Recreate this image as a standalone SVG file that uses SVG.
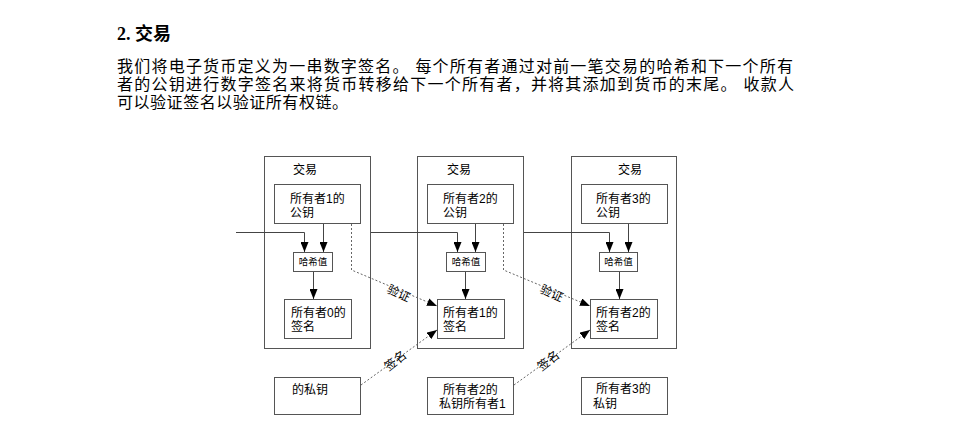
<svg xmlns="http://www.w3.org/2000/svg" width="960" height="435" viewBox="0 0 960 435">
<defs>
<marker id="ah" markerUnits="userSpaceOnUse" markerWidth="10" markerHeight="8" refX="10" refY="4" orient="auto">
<path d="M0,0 L10,4 L0,8 z" fill="#000"/>
</marker>
<style>
.title{font-family:"Liberation Serif","Noto Sans CJK SC",serif;font-size:18px;font-weight:bold;fill:#000}
.para{font-family:"Liberation Sans","Noto Sans CJK SC",sans-serif;font-size:16px;fill:#000}
.t{font-family:"Liberation Sans","Noto Sans CJK SC",sans-serif;font-size:12px;fill:#000}
.s{font-family:"Liberation Sans","Noto Sans CJK SC",sans-serif;font-size:9.5px;fill:#000}
.box{fill:#fff;stroke:#555;stroke-width:1}
.ln{fill:none;stroke:#444;stroke-width:1}
.dl{fill:none;stroke:#666;stroke-width:1;stroke-dasharray:2,2}
</style>
</defs>
<rect width="960" height="435" fill="#fff"/>
<text class="title" x="117" y="40">2. 交易</text>
<text class="para" x="117" y="72" textLength="676" lengthAdjust="spacing">我们将电子货币定义为一串数字签名。 每个所有者通过对前一笔交易的哈希和下一个所有</text>
<text class="para" x="117" y="90" textLength="677" lengthAdjust="spacing">者的公钥进行数字签名来将货币转移给下一个所有者，并将其添加到货币的末尾。 收款人</text>
<text class="para" x="117" y="108" textLength="231" lengthAdjust="spacing">可以验证签名以验证所有权链。</text>

<g id="tx1">
<rect class="box" x="264.5" y="156.5" width="106" height="192"/>
<text class="t" x="293" y="174">交易</text>
<rect class="box" x="274.5" y="184.5" width="86" height="39"/>
<text class="t" x="290" y="203">所有者1的</text>
<text class="t" x="290" y="217">公钥</text>
<rect class="box" x="293.5" y="252.5" width="39" height="19"/>
<text class="s" x="313" y="265" text-anchor="middle">哈希值</text>
<rect class="box" x="284.5" y="299.5" width="67" height="39"/>
<text class="t" x="291" y="317">所有者0的</text>
<text class="t" x="291" y="331">签名</text>
</g>
<g id="key1">
<rect class="box" x="274.5" y="377.5" width="86" height="37"/>
<text class="t" x="292" y="394">的私钥</text>
</g>

<g id="tx2">
<rect class="box" x="417.5" y="156.5" width="106" height="192"/>
<text class="t" x="447" y="174">交易</text>
<rect class="box" x="427.5" y="184.5" width="86" height="39"/>
<text class="t" x="443" y="203">所有者2的</text>
<text class="t" x="443" y="217">公钥</text>
<rect class="box" x="446.5" y="252.5" width="39" height="19"/>
<text class="s" x="466" y="265" text-anchor="middle">哈希值</text>
<rect class="box" x="437.5" y="299.5" width="67" height="39"/>
<text class="t" x="443" y="317">所有者1的</text>
<text class="t" x="443" y="331">签名</text>
</g>
<g id="key2">
<rect class="box" x="427.5" y="377.5" width="86" height="37"/>
<text class="t" x="443" y="394">所有者2的</text>
<text class="t" x="439" y="408">私钥所有者1</text>
</g>

<g id="tx3">
<rect class="box" x="571.5" y="156.5" width="105" height="192"/>
<text class="t" x="618" y="174">交易</text>
<rect class="box" x="581.5" y="184.5" width="86" height="39"/>
<text class="t" x="596" y="203">所有者3的</text>
<text class="t" x="596" y="217">公钥</text>
<rect class="box" x="599.5" y="252.5" width="38" height="19"/>
<text class="s" x="618.5" y="265" text-anchor="middle">哈希值</text>
<rect class="box" x="590.5" y="299.5" width="67" height="39"/>
<text class="t" x="596" y="317">所有者2的</text>
<text class="t" x="596" y="331">签名</text>
</g>
<g id="key3">
<rect class="box" x="581.5" y="377.5" width="86" height="37"/>
<text class="t" x="596" y="393">所有者3的</text>
<text class="t" x="593" y="408">私钥</text>
</g>

<g id="connectors">
<polyline class="ln" points="236,232.5 304.5,232.5 304.5,252" marker-end="url(#ah)"/>
<line class="ln" x1="323.5" y1="224" x2="323.5" y2="252" marker-end="url(#ah)"/>
<line class="ln" x1="313.5" y1="272" x2="313.5" y2="299" marker-end="url(#ah)"/>
<polyline class="ln" points="371,232.5 457.5,232.5 457.5,252" marker-end="url(#ah)"/>
<line class="ln" x1="475.5" y1="224" x2="475.5" y2="252" marker-end="url(#ah)"/>
<line class="ln" x1="465.5" y1="272" x2="465.5" y2="299" marker-end="url(#ah)"/>
<polyline class="ln" points="524,232.5 609.5,232.5 609.5,252" marker-end="url(#ah)"/>
<line class="ln" x1="628.5" y1="224" x2="628.5" y2="252" marker-end="url(#ah)"/>
<line class="ln" x1="619.5" y1="272" x2="619.5" y2="299" marker-end="url(#ah)"/>

<polyline class="dl" points="351.5,224 351.5,270 437,306" marker-end="url(#ah)"/>
<line class="dl" x1="361" y1="385" x2="437" y2="330" marker-end="url(#ah)"/>
<polyline class="dl" points="503.5,224 503.5,270 590,306" marker-end="url(#ah)"/>
<line class="dl" x1="514" y1="385" x2="590" y2="330" marker-end="url(#ah)"/>

<text class="t" x="0" y="0" text-anchor="middle" transform="translate(397,297) rotate(25)">验证</text>
<text class="t" x="0" y="0" text-anchor="middle" transform="translate(398,364) rotate(-38)">签名</text>
<text class="t" x="0" y="0" text-anchor="middle" transform="translate(550,297) rotate(25)">验证</text>
<text class="t" x="0" y="0" text-anchor="middle" transform="translate(551,364) rotate(-38)">签名</text>
</g>
</svg>
